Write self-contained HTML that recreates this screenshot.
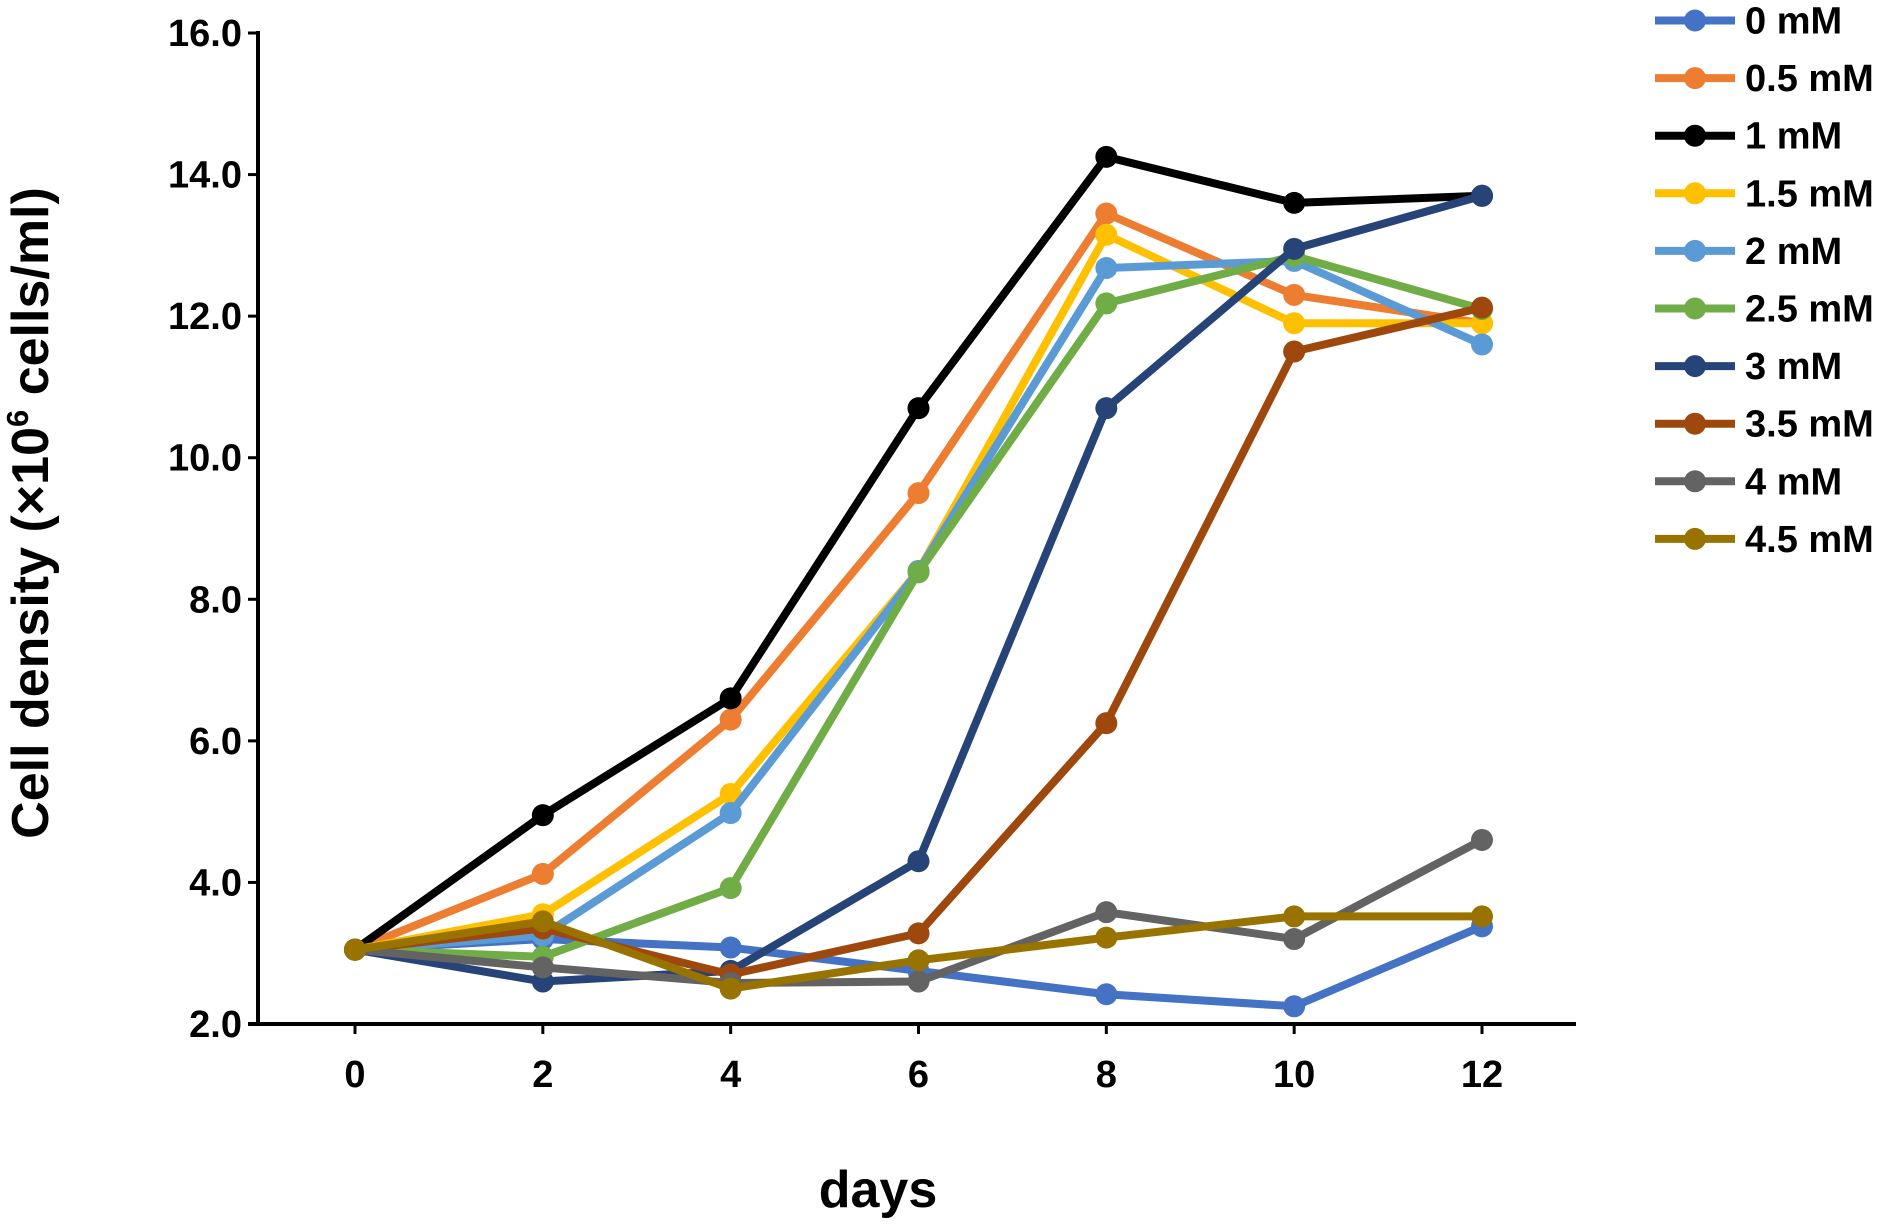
<!DOCTYPE html>
<html><head><meta charset="utf-8"><style>
body{margin:0;background:#fff;}
svg{display:block;font-family:"Liberation Sans",Arial,sans-serif;font-weight:bold;}
</style></head><body>
<svg id="chart" width="1894" height="1230" viewBox="0 0 1894 1230" xmlns="http://www.w3.org/2000/svg">
<g id="axes"></g>
<g id="series"></g>
<g id="legend"></g>
<text transform="translate(48,513) rotate(-90)" text-anchor="middle" font-size="52">Cell density (×10<tspan font-size="31" dy="-20">6</tspan><tspan dy="20"> cells/ml)</tspan></text>
<text x="878" y="1207" text-anchor="middle" font-size="52">days</text>
</svg>
<script>
const days=[0,2,4,6,8,10,12];
const yTicks=[2,4,6,8,10,12,14,16];
const seriesNames=["0 mM","0.5 mM","1 mM","1.5 mM","2 mM","2.5 mM","3 mM","3.5 mM","4 mM","4.5 mM"];
const s0=[3.05,3.2,3.08,2.75,2.42,2.25,3.38];
const s05=[3.05,4.12,6.3,9.5,13.45,12.3,11.9];
const s1=[3.05,4.95,6.6,10.7,14.25,13.6,13.7];
const s15=[3.05,3.55,5.25,8.4,13.15,11.9,11.9];
const s2=[3.05,3.25,4.98,8.4,12.68,12.78,11.6];
const s25=[3.05,2.95,3.92,8.38,12.18,12.85,12.1];
const s3=[3.05,2.6,2.75,4.3,10.7,12.95,13.7];
const s35=[3.05,3.35,2.7,3.28,6.25,11.5,12.12];
const s4=[3.05,2.8,2.58,2.6,3.58,3.2,4.6];
const s45=[3.05,3.45,2.5,2.9,3.22,3.52,3.52];
const allSeries=[s0,s05,s1,s15,s2,s25,s3,s35,s4,s45];
const colors=["#4472C4","#ED7D31","#000000","#FFC000","#5B9BD5","#70AD47","#264478","#9E480E","#636363","#997300"];
const NS="http://www.w3.org/2000/svg";
const X0=258,Y0=1024,XR=1576;
function xs(d){return 355+(d/12)*(1482-355);}
function ys(v){return 1024-(v-2)/14*(1024-33);}
function mk(tag,attrs,parent){const e=document.createElementNS(NS,tag);for(const k in attrs)e.setAttribute(k,attrs[k]);parent.appendChild(e);return e;}
const ax=document.getElementById('axes');
let e=mk('line',{x1:X0,y1:ys(16)-2,x2:X0,y2:Y0+2,stroke:'#000','stroke-width':4},ax);


e=mk('line',{x1:X0-10,y1:Y0,x2:XR,y2:Y0,stroke:'#000','stroke-width':4},ax);


yTicks.forEach(v=>{
 const t=mk('line',{x1:X0-10,y1:ys(v),x2:X0,y2:ys(v),stroke:'#000','stroke-width':3},ax);
 
 
 const l=mk('text',{x:X0-16,y:ys(v)+13,'text-anchor':'end','font-size':38},ax);
 l.textContent=v.toFixed(1);
 
 
});
days.forEach(d=>{
 const t=mk('line',{x1:xs(d),y1:Y0,x2:xs(d),y2:Y0+10,stroke:'#000','stroke-width':3},ax);
 
 
 const l=mk('text',{x:xs(d),y:Y0+63,'text-anchor':'middle','font-size':38},ax);
 l.textContent=d;
 
 
});
const sg=document.getElementById('series');
allSeries.forEach((arr,i)=>{
 const g=mk('g',{},sg);
 
 
 const p=mk('polyline',{points:arr.map((v,j)=>xs(days[j])+','+ys(v)).join(' '),fill:'none',stroke:colors[i],'stroke-width':8,'stroke-linejoin':'round'},g);
 
 
 arr.forEach((v,j)=>{
  const c=mk('circle',{cx:xs(days[j]),cy:ys(v),r:11,fill:colors[i]},g);
  
  
 });
});
const lg=document.getElementById('legend');
seriesNames.forEach((n,i)=>{
 const y=20.5+i*57.6;
 const g=mk('g',{},lg);
 
 
 mk('line',{x1:1655,y1:y,x2:1735,y2:y,stroke:colors[i],'stroke-width':8},g);
 mk('circle',{cx:1695,cy:y,r:11,fill:colors[i]},g);
 const t=mk('text',{x:1745,y:y+13,'font-size':38},g);
 t.textContent=n;
});
</script>
</body></html>
